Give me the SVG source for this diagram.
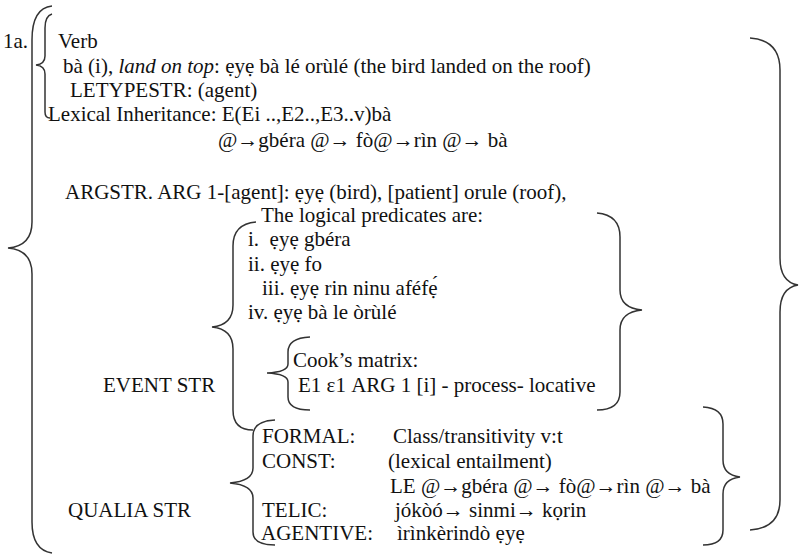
<svg xmlns="http://www.w3.org/2000/svg" width="800" height="558" viewBox="0 0 800 558">
<style>
text{font-family:"Liberation Serif","Times New Roman",serif;font-size:21px;fill:#111}
.b{fill:none;stroke:#333;stroke-width:1.5}
</style>
<rect width="800" height="558" fill="#fff"/>
<g id="braces">
<path class="b" d="M52 6 Q32 8 32 40 L32 222 Q32 246 8 248 Q32 250 32 274 L32 522 Q32 550 52 553"/>
<path class="b" d="M52 14 Q45 16 45 28 L45 56 Q45 64 36 65 Q45 66 45 74 L45 112 Q45 118 50 118"/>
<path class="b" d="M750 38 Q780 40 780 70 L780 258 Q780 282 798 285 Q780 288 780 312 L780 500 Q780 528 750 530"/>
<path class="b" d="M256 222 Q233 224 233 246 L233 305 Q233 325 212 327 Q233 329 233 349 L233 410 Q233 430 253 430"/>
<path class="b" d="M597 213 Q620 215 620 237 L620 290 Q620 308 642 310 Q620 312 620 330 L620 392 Q620 410 597 410"/>
<path class="b" d="M310 337 Q288 338 288 352 L288 364 Q288 372 267 373 Q288 374 288 382 L288 397 Q288 410 310 410"/>
<path class="b" d="M275 420 Q253 421 253 436 L253 468 Q253 481 230 483 Q253 485 253 498 L253 532 Q253 545 275 545"/>
<path class="b" d="M703 407 Q723 408 723 424 L723 460 Q723 475 740 477 Q723 479 723 494 L723 530 Q723 545 703 545"/>
</g>
<g id="label-1a"><text x="3" y="48">1a.</text></g>
<g id="verb">
<text x="58" y="48">Verb</text>
<text x="63" y="73">bà (i), <tspan font-style="italic">land on top</tspan>: ẹyẹ bà lé orùlé (the bird landed on the roof)</text>
<text x="70" y="97">LETYPESTR: (agent)</text>
<text x="48" y="121">Lexical Inheritance: E(Ei ..,E2..,E3..v)bà</text>
<text x="218" y="147">@→gbéra @→ fò@→rìn @→ bà</text>
</g>
<g id="argstr"><text x="65" y="199">ARGSTR. ARG 1-[agent]: ẹyẹ (bird), [patient] orule (roof),</text></g>
<g id="event">
<text x="261" y="222">The logical predicates are:</text>
<text x="248" y="246">i.&#160; ẹyẹ gbéra</text>
<text x="248" y="271">ii. ẹyẹ fo</text>
<text x="262" y="295">iii. ẹyẹ rin ninu aféfẹ́</text>
<text x="248" y="319">iv. ẹyẹ bà le òrùlé</text>
<text x="293" y="367">Cook’s matrix:</text>
<text x="298" y="392">E1 ε1 ARG 1 [i] - process- locative</text>
<text x="103" y="392">EVENT STR</text>
</g>
<g id="qualia">
<text x="262" y="443">FORMAL:</text><text x="393" y="443">Class/transitivity v:t</text>
<text x="262" y="468">CONST:</text><text x="388" y="468">(lexical entailment)</text>
<text x="390" y="493">LE @→gbéra @→ fò@→rìn @→ bà</text>
<text x="68" y="517">QUALIA STR</text>
<text x="262" y="517">TELIC:</text><text x="395" y="517">jókòó→ sinmi→ kọrin</text>
<text x="261" y="540">AGENTIVE:</text><text x="397" y="540">ìrìnkèrindò ẹyẹ</text>
</g>
</svg>
